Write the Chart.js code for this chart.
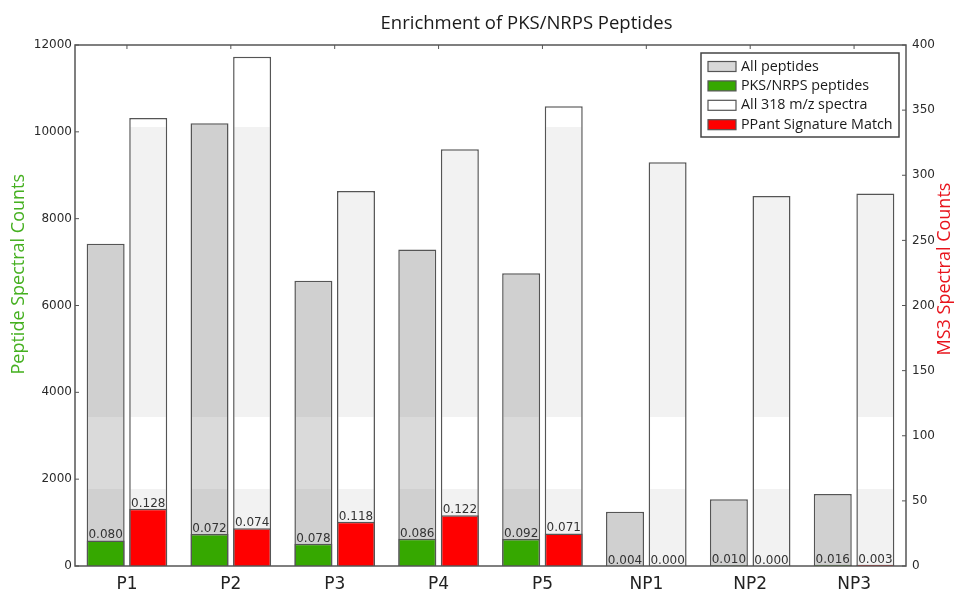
<!DOCTYPE html>
<html>
<head>
<meta charset="utf-8">
<title>Enrichment of PKS/NRPS Peptides</title>
<script src="https://cdn.jsdelivr.net/npm/chart.js@4"></script>
<style>
  html, body { margin: 0; padding: 0; background: #fff; }
  #wrap { width: 963px; height: 594px; }
</style>
</head>
<body>
<div id="wrap"><canvas id="enrichChart" width="963" height="594"></canvas></div>
<script>
const samples = ['P1', 'P2', 'P3', 'P4', 'P5', 'NP1', 'NP2', 'NP3'];
const allPeptides = [7420, 10200, 6570, 7290, 6740, 1250, 1540, 1660];
const pksPeptides = [590, 735, 512, 627, 620, 5, 15, 27];
const allSpectra = [344, 391, 288, 320, 353, 310, 284, 286];
const ppantMatch = [44, 29, 34, 39, 25, 0, 0, 1];
const pksRatio = ['0.080', '0.072', '0.078', '0.086', '0.092', '0.004', '0.010', '0.016'];
const ppantRatio = ['0.128', '0.074', '0.118', '0.122', '0.071', '0.000', '0.000', '0.003'];

const SANS = '"Open Sans", "Liberation Sans", sans-serif';
const VERA = '"DejaVu Sans", sans-serif';
const EDGE = '#555555';
const GREEN = '#36a800';
const RED = '#ff0000';

// the scanned figure has faint horizontal shading bands (left axis units)
const bandHi = 10120, bandMidTop = 3430, bandMidLow = 1775;

function bandFill(base, shade, topColor) {
  return (c) => {
    const chart = c.chart;
    const area = chart.chartArea;
    if (!area || !chart.scales.y) return base;
    const y = chart.scales.y;
    const h = area.bottom - area.top;
    const f = (v) => Math.min(1, Math.max(0, (y.getPixelForValue(v) - area.top) / h));
    const g = chart.ctx.createLinearGradient(0, area.top, 0, area.bottom);
    g.addColorStop(0, topColor);
    g.addColorStop(f(bandHi), topColor);
    g.addColorStop(f(bandHi), base);
    g.addColorStop(f(bandMidTop), base);
    g.addColorStop(f(bandMidTop), shade);
    g.addColorStop(f(bandMidLow), shade);
    g.addColorStop(f(bandMidLow), base);
    g.addColorStop(1, base);
    return g;
  };
}

const decor = {
  id: 'decor',
  afterDatasetsDraw(chart) {
    const ctx = chart.ctx;
    ctx.save();
    ctx.font = '12px ' + VERA;
    ctx.fillStyle = '#333';
    ctx.textAlign = 'center';
    ctx.textBaseline = 'alphabetic';
    [[1, pksRatio], [3, ppantRatio]].forEach(([di, labels]) => {
      chart.getDatasetMeta(di).data.forEach((bar, i) => {
        ctx.fillText(labels[i], bar.x, bar.y - 2);
      });
    });
    ctx.restore();
  },
  afterDraw(chart) {
    const { ctx, chartArea: a, scales } = chart;
    ctx.save();
    ctx.strokeStyle = EDGE;
    ctx.lineWidth = 1.5;
    ctx.strokeRect(a.left, a.top, a.right - a.left, a.bottom - a.top);

    ctx.lineWidth = 1;
    ctx.beginPath();
    scales.y.ticks.forEach((t, i) => {
      const py = scales.y.getPixelForTick(i);
      ctx.moveTo(a.left, py);
      ctx.lineTo(a.left + 4, py);
    });
    scales.y1.ticks.forEach((t, i) => {
      const py = scales.y1.getPixelForTick(i);
      ctx.moveTo(a.right, py);
      ctx.lineTo(a.right - 4, py);
    });
    scales.x.ticks.forEach((t, i) => {
      const px = scales.x.getPixelForTick(i);
      ctx.moveTo(px, a.top);
      ctx.lineTo(px, a.top + 4);
    });
    ctx.stroke();

    // title
    ctx.fillStyle = '#1a1a1a';
    ctx.font = '18.5px ' + SANS;
    ctx.textAlign = 'center';
    ctx.textBaseline = 'alphabetic';
    ctx.fillText('Enrichment of PKS/NRPS Peptides', (a.left + a.right) / 2 + 36, 29);

    // axis titles
    ctx.font = '18px ' + SANS;
    ctx.textBaseline = 'middle';
    ctx.save();
    ctx.translate(19, a.top + (a.bottom - a.top) * 0.44);
    ctx.rotate(-Math.PI / 2);
    ctx.fillStyle = '#45b020';
    ctx.fillText('Peptide Spectral Counts', 0, 0);
    ctx.restore();
    ctx.save();
    ctx.translate(945, a.top + (a.bottom - a.top) * 0.43);
    ctx.rotate(-Math.PI / 2);
    ctx.fillStyle = '#e8141c';
    ctx.fillText('MS3 Spectral Counts', 0, 0);
    ctx.restore();

    // legend
    const boxW = 198, boxH = 84;
    const bx = a.right - 7 - boxW, by = a.top + 8;
    ctx.fillStyle = '#fff';
    ctx.fillRect(bx, by, boxW, boxH);
    ctx.strokeStyle = '#444';
    ctx.lineWidth = 1.5;
    ctx.strokeRect(bx, by, boxW, boxH);
    ctx.font = '14.3px ' + SANS;
    ctx.textAlign = 'left';
    ctx.textBaseline = 'middle';
    chart.data.datasets.forEach((ds, i) => {
      const ry = by + 13.5 + i * 19.4;
      ctx.fillStyle = ds.swatch;
      ctx.fillRect(bx + 7, ry - 5, 28, 10);
      ctx.strokeStyle = EDGE;
      ctx.lineWidth = 1.2;
      ctx.strokeRect(bx + 7, ry - 5, 28, 10);
      ctx.fillStyle = '#1a1a1a';
      ctx.fillText(ds.label, bx + 40, ry);
    });
    ctx.restore();
  },
};

new Chart(document.getElementById('enrichChart'), {
  type: 'bar',
  data: {
    labels: samples,
    datasets: [
      {
        label: 'All peptides',
        data: allPeptides,
        yAxisID: 'y',
        stack: 'pep',
        order: 1,
        swatch: '#d8d8d8',
        backgroundColor: bandFill('#d0d0d0', '#dadada', '#d0d0d0'),
        borderColor: EDGE,
        borderWidth: 1.5,
      },
      {
        label: 'PKS/NRPS peptides',
        data: pksPeptides,
        yAxisID: 'y',
        stack: 'pep',
        order: 0,
        swatch: GREEN,
        backgroundColor: GREEN,
        borderColor: EDGE,
        borderWidth: 1.5,
      },
      {
        label: 'All 318 m/z spectra',
        data: allSpectra,
        yAxisID: 'y1',
        stack: 'ms3',
        order: 1,
        swatch: '#ffffff',
        backgroundColor: bandFill('#f2f2f2', '#ffffff', '#ffffff'),
        borderColor: EDGE,
        borderWidth: 1.5,
      },
      {
        label: 'PPant Signature Match',
        data: ppantMatch,
        yAxisID: 'y1',
        stack: 'ms3',
        order: 0,
        swatch: RED,
        backgroundColor: RED,
        borderColor: EDGE,
        borderWidth: 1.5,
      },
    ],
  },
  options: {
    responsive: false,
    animation: false,
    events: [],
    categoryPercentage: 0.82,
    barPercentage: 0.892,
    layout: { padding: { top: 45, left: 0, right: 0, bottom: 0 } },
    plugins: { legend: { display: false }, title: { display: false }, tooltip: { enabled: false } },
    scales: {
      x: {
        stacked: true,
        offset: true,
        grid: { display: false, drawTicks: false },
        border: { display: false },
        ticks: { color: '#222', font: { family: VERA, size: 17 }, padding: 8 },
        afterFit: (s) => { s.height = 28; },
      },
      y: {
        position: 'left',
        stacked: false,
        min: 0,
        max: 12000,
        ticks: {
          stepSize: 2000,
          color: '#2a2a2a',
          font: { family: VERA, size: 12 },
          padding: 3,
          callback: (v) => String(v),
        },
        grid: { display: false, drawTicks: false },
        border: { display: false },
        afterFit: (s) => { s.width = 75; },
      },
      y1: {
        position: 'right',
        stacked: false,
        min: 0,
        max: 400,
        ticks: {
          stepSize: 50,
          color: '#2a2a2a',
          font: { family: VERA, size: 12 },
          padding: 6,
          callback: (v) => String(v),
        },
        grid: { display: false, drawTicks: false },
        border: { display: false },
        afterFit: (s) => { s.width = 57; },
      },
    },
  },
  plugins: [decor],
});
</script>
</body>
</html>
